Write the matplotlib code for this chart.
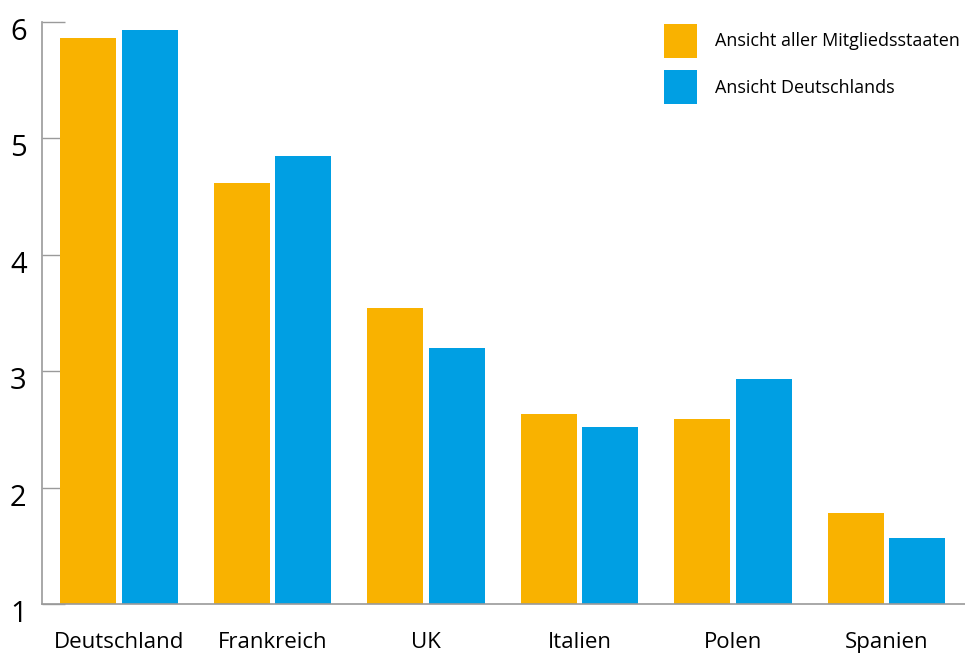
import matplotlib

matplotlib.use("Agg")
import matplotlib.pyplot as plt
import matplotlib.transforms as mtransforms
import numpy as np

countries = ["Deutschland", "Frankreich", "UK", "Italien", "Polen", "Spanien"]
all_members = [5.86, 4.62, 3.54, 2.63, 2.59, 1.78]
germany_view = [5.93, 4.85, 3.20, 2.52, 2.93, 1.57]
series_labels = ["Ansicht aller Mitgliedsstaaten", "Ansicht Deutschlands"]
yticks = [1, 2, 3, 4, 5, 6]

ORANGE = "#F9B200"
BLUE = "#009FE3"
GREY = "#9a9a9a"

plt.rcParams["font.family"] = ["Open Sans", "DejaVu Sans"]

fig = plt.figure(figsize=(9.65, 6.53), dpi=100)
ax = fig.add_axes([42 / 965, 1 - 604 / 653, 1 - 42 / 965, (604 - 22) / 653])

x = np.arange(len(countries))
width = 0.365
ax.bar(x - 0.2, all_members, width, bottom=0, color=ORANGE, label=series_labels[0])
ax.bar(x + 0.2, germany_view, width, bottom=0, color=BLUE, label=series_labels[1])

ax.set_ylim(1, 6)
ax.set_xlim(-0.501, 5.51)
ax.set_axisbelow(True)

for side in ("top", "right"):
    ax.spines[side].set_visible(False)
for side in ("left", "bottom"):
    ax.spines[side].set_color(GREY)
    ax.spines[side].set_linewidth(1.2)

ax.set_yticks(yticks)
ax.set_yticklabels([str(t) for t in yticks], fontsize=21)
ax.tick_params(axis="y", direction="in", length=16.5, width=1.0, color=GREY, pad=11)
# labels sit a little below their tick in the original
shift = mtransforms.ScaledTranslation(0, -5 / 72, fig.dpi_scale_trans)
for lbl in ax.get_yticklabels():
    lbl.set_transform(lbl.get_transform() + shift)

ax.set_xticks(x)
ax.set_xticklabels(countries, fontsize=16)
ax.tick_params(axis="x", length=0, pad=20)

ax.legend(
    loc="upper left",
    bbox_to_anchor=(664 / 965, 1 - 24 / 653),
    bbox_transform=fig.transFigure,
    frameon=False,
    fontsize=13,
    handlelength=1.85,
    handleheight=2.5,
    handletextpad=1.0,
    labelspacing=0.7,
    borderpad=0,
    borderaxespad=0,
)

fig.savefig("out.png", dpi=100)
